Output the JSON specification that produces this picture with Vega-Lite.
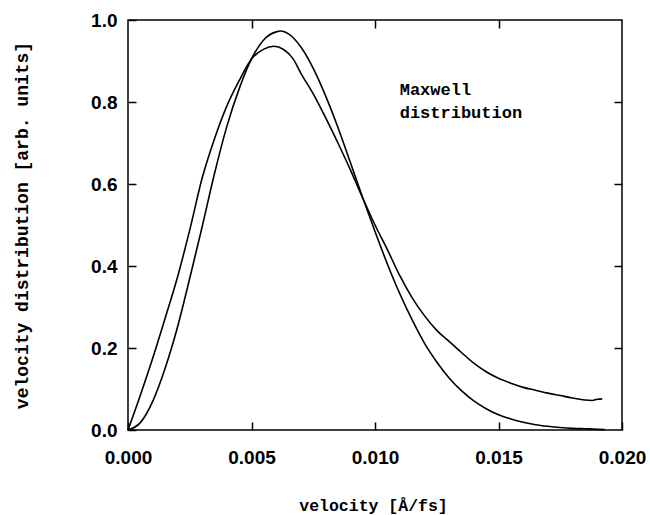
{
  "$schema": "https://vega.github.io/schema/vega-lite/v6.json",
  "width": 494,
  "height": 410,
  "autosize": {"type": "none"},
  "padding": {"left": 128, "top": 20, "right": 28, "bottom": 85},
  "background": "white",
  "config": {
    "view": {"stroke": "black", "strokeWidth": 1.5},
    "axis": {"domain": false, "grid": false, "tickColor": "black", "tickWidth": 1.5, "tickSize": -8, "labelColor": "black", "titleColor": "black"}
  },
  "datasets": {
    "curves": [
      {"series": "maxwell", "v": 0, "f": 0},
      {"series": "maxwell", "v": 0.0005, "f": 0.018},
      {"series": "maxwell", "v": 0.001, "f": 0.07},
      {"series": "maxwell", "v": 0.0015, "f": 0.15},
      {"series": "maxwell", "v": 0.002, "f": 0.25},
      {"series": "maxwell", "v": 0.0025, "f": 0.37},
      {"series": "maxwell", "v": 0.003, "f": 0.495},
      {"series": "maxwell", "v": 0.0035, "f": 0.625},
      {"series": "maxwell", "v": 0.004, "f": 0.74},
      {"series": "maxwell", "v": 0.0045, "f": 0.832},
      {"series": "maxwell", "v": 0.005, "f": 0.905},
      {"series": "maxwell", "v": 0.0055, "f": 0.952},
      {"series": "maxwell", "v": 0.006, "f": 0.971},
      {"series": "maxwell", "v": 0.0062, "f": 0.973},
      {"series": "maxwell", "v": 0.0065, "f": 0.966},
      {"series": "maxwell", "v": 0.007, "f": 0.934},
      {"series": "maxwell", "v": 0.0075, "f": 0.882},
      {"series": "maxwell", "v": 0.008, "f": 0.815},
      {"series": "maxwell", "v": 0.0085, "f": 0.738},
      {"series": "maxwell", "v": 0.009, "f": 0.653},
      {"series": "maxwell", "v": 0.0095, "f": 0.567},
      {"series": "maxwell", "v": 0.01, "f": 0.484},
      {"series": "maxwell", "v": 0.0105, "f": 0.405},
      {"series": "maxwell", "v": 0.011, "f": 0.333},
      {"series": "maxwell", "v": 0.0115, "f": 0.269},
      {"series": "maxwell", "v": 0.012, "f": 0.212},
      {"series": "maxwell", "v": 0.0125, "f": 0.166},
      {"series": "maxwell", "v": 0.013, "f": 0.127},
      {"series": "maxwell", "v": 0.0135, "f": 0.096},
      {"series": "maxwell", "v": 0.014, "f": 0.071},
      {"series": "maxwell", "v": 0.0145, "f": 0.052},
      {"series": "maxwell", "v": 0.015, "f": 0.037},
      {"series": "maxwell", "v": 0.0155, "f": 0.027},
      {"series": "maxwell", "v": 0.016, "f": 0.019},
      {"series": "maxwell", "v": 0.0165, "f": 0.013},
      {"series": "maxwell", "v": 0.017, "f": 0.009},
      {"series": "maxwell", "v": 0.0175, "f": 0.006},
      {"series": "maxwell", "v": 0.018, "f": 0.004},
      {"series": "maxwell", "v": 0.0185, "f": 0.003},
      {"series": "maxwell", "v": 0.019, "f": 0.002},
      {"series": "maxwell", "v": 0.0193, "f": 0.001},
      {"series": "simulation", "v": 0, "f": 0},
      {"series": "simulation", "v": 0.0005, "f": 0.085},
      {"series": "simulation", "v": 0.001, "f": 0.175},
      {"series": "simulation", "v": 0.0015, "f": 0.272},
      {"series": "simulation", "v": 0.002, "f": 0.372},
      {"series": "simulation", "v": 0.0025, "f": 0.488},
      {"series": "simulation", "v": 0.003, "f": 0.614},
      {"series": "simulation", "v": 0.0035, "f": 0.71},
      {"series": "simulation", "v": 0.004, "f": 0.79},
      {"series": "simulation", "v": 0.0045, "f": 0.852},
      {"series": "simulation", "v": 0.005, "f": 0.905},
      {"series": "simulation", "v": 0.0055, "f": 0.929},
      {"series": "simulation", "v": 0.0059, "f": 0.936},
      {"series": "simulation", "v": 0.0063, "f": 0.928},
      {"series": "simulation", "v": 0.0067, "f": 0.904},
      {"series": "simulation", "v": 0.007, "f": 0.87},
      {"series": "simulation", "v": 0.0075, "f": 0.82},
      {"series": "simulation", "v": 0.008, "f": 0.762},
      {"series": "simulation", "v": 0.0085, "f": 0.7},
      {"series": "simulation", "v": 0.009, "f": 0.635},
      {"series": "simulation", "v": 0.0095, "f": 0.566},
      {"series": "simulation", "v": 0.01, "f": 0.5},
      {"series": "simulation", "v": 0.0105, "f": 0.44},
      {"series": "simulation", "v": 0.011, "f": 0.377},
      {"series": "simulation", "v": 0.0115, "f": 0.323},
      {"series": "simulation", "v": 0.012, "f": 0.279},
      {"series": "simulation", "v": 0.0125, "f": 0.243},
      {"series": "simulation", "v": 0.013, "f": 0.216},
      {"series": "simulation", "v": 0.0135, "f": 0.189},
      {"series": "simulation", "v": 0.014, "f": 0.163},
      {"series": "simulation", "v": 0.0145, "f": 0.142},
      {"series": "simulation", "v": 0.015, "f": 0.126},
      {"series": "simulation", "v": 0.0155, "f": 0.114},
      {"series": "simulation", "v": 0.016, "f": 0.104},
      {"series": "simulation", "v": 0.0165, "f": 0.097},
      {"series": "simulation", "v": 0.017, "f": 0.09},
      {"series": "simulation", "v": 0.0175, "f": 0.084},
      {"series": "simulation", "v": 0.018, "f": 0.078},
      {"series": "simulation", "v": 0.0185, "f": 0.073},
      {"series": "simulation", "v": 0.0188, "f": 0.072},
      {"series": "simulation", "v": 0.019, "f": 0.075},
      {"series": "simulation", "v": 0.0192, "f": 0.076}
    ]
  },
  "layer": [
    {
      "data": {"name": "curves"},
      "mark": {"type": "line", "strokeWidth": 1.6, "interpolate": "monotone"},
      "encoding": {
        "x": {
          "field": "v", "type": "quantitative",
          "scale": {"domain": [0, 0.02], "nice": false, "zero": false},
          "axis": {"orient": "bottom", "values": [0, 0.005, 0.01, 0.015, 0.02], "format": ".3f",
                   "labelFont": "Liberation Sans", "labelFontSize": 19, "labelFontWeight": "bold", "labelPadding": 26, "labelFlush": false,
                   "title": "velocity [Å/fs]", "titleFont": "Liberation Mono", "titleFontSize": 16.5, "titleFontWeight": "bold",
                   "titleX": 245, "titleY": 80, "titleBaseline": "alphabetic", "titleAlign": "center"}
        },
        "y": {
          "field": "f", "type": "quantitative",
          "scale": {"domain": [0, 1], "nice": false},
          "axis": {"orient": "left", "values": [0, 0.2, 0.4, 0.6, 0.8, 1.0], "format": ".1f",
                   "labelFont": "Liberation Sans", "labelFontSize": 19, "labelFontWeight": "bold", "labelPadding": 19, "labelFlush": false,
                   "title": "velocity distribution [arb. units]", "titleFont": "Liberation Mono", "titleFontSize": 18, "titleFontWeight": "bold",
                   "titleX": -106, "titleY": 205, "titleBaseline": "middle", "titleAlign": "center", "titleAngle": -90}
        },
        "color": {"field": "series", "type": "nominal", "scale": {"range": ["black", "black"]}, "legend": null}
      }
    },
    {
      "data": {"name": "curves"},
      "mark": {"type": "line", "opacity": 0},
      "encoding": {
        "x": {"field": "v", "type": "quantitative", "axis": {"orient": "top", "values": [0.005, 0.01, 0.015], "labels": false, "title": null}},
        "y": {"field": "f", "type": "quantitative", "axis": {"orient": "right", "values": [0.2, 0.4, 0.6, 0.8], "labels": false, "title": null}},
        "detail": {"field": "series"}
      }
    },
    {
      "data": {"values": [{"label": "Maxwell distribution"}]},
      "mark": {"type": "text", "align": "left", "baseline": "alphabetic", "font": "Liberation Mono", "fontSize": 17, "fontWeight": "bold", "lineHeight": 23, "text": ["Maxwell", "distribution"], "color": "black"},
      "encoding": {
        "x": {"datum": 0.011, "type": "quantitative", "axis": null},
        "y": {"datum": 0.818, "type": "quantitative", "axis": null}
      }
    }
  ],
  "resolve": {"axis": {"x": "independent", "y": "independent"}}
}
